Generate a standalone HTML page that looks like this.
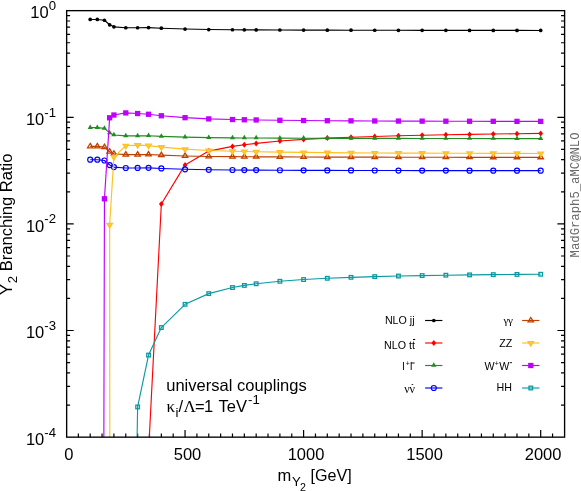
<!DOCTYPE html>
<html><head><meta charset="utf-8"><title>Y2 Branching Ratio</title>
<style>
html,body{margin:0;padding:0;background:#fff;}
body{width:581px;height:491px;overflow:hidden;}
svg{display:block;will-change:transform;}
text{font-family:"Liberation Sans",sans-serif;fill:#000;}
.s{font-family:"Liberation Serif",serif;}
.m{font-family:"Liberation Mono",monospace;}
</style></head><body>
<svg width="581" height="491" viewBox="0 0 581 491">
<rect x="0" y="0" width="581" height="491" fill="#ffffff"/>
<path d="M66.5 85.18h3.6M564.6 85.18h-3.6M66.5 66.40h3.6M564.6 66.40h-3.6M66.5 53.08h3.6M564.6 53.08h-3.6M66.5 42.75h3.6M564.6 42.75h-3.6M66.5 34.30h3.6M564.6 34.30h-3.6M66.5 27.17h3.6M564.6 27.17h-3.6M66.5 20.98h3.6M564.6 20.98h-3.6M66.5 15.53h3.6M564.6 15.53h-3.6M66.5 117.28h7.2M564.6 117.28h-7.2M66.5 191.80h3.6M564.6 191.80h-3.6M66.5 173.03h3.6M564.6 173.03h-3.6M66.5 159.71h3.6M564.6 159.71h-3.6M66.5 149.37h3.6M564.6 149.37h-3.6M66.5 140.93h3.6M564.6 140.93h-3.6M66.5 133.79h3.6M564.6 133.79h-3.6M66.5 127.61h3.6M564.6 127.61h-3.6M66.5 122.15h3.6M564.6 122.15h-3.6M66.5 223.90h7.2M564.6 223.90h-7.2M66.5 298.43h3.6M564.6 298.43h-3.6M66.5 279.65h3.6M564.6 279.65h-3.6M66.5 266.33h3.6M564.6 266.33h-3.6M66.5 256.00h3.6M564.6 256.00h-3.6M66.5 247.55h3.6M564.6 247.55h-3.6M66.5 240.42h3.6M564.6 240.42h-3.6M66.5 234.23h3.6M564.6 234.23h-3.6M66.5 228.78h3.6M564.6 228.78h-3.6M66.5 330.52h7.2M564.6 330.52h-7.2M66.5 405.05h3.6M564.6 405.05h-3.6M66.5 386.28h3.6M564.6 386.28h-3.6M66.5 372.96h3.6M564.6 372.96h-3.6M66.5 362.62h3.6M564.6 362.62h-3.6M66.5 354.18h3.6M564.6 354.18h-3.6M66.5 347.04h3.6M564.6 347.04h-3.6M66.5 340.86h3.6M564.6 340.86h-3.6M66.5 335.40h3.6M564.6 335.40h-3.6M78.36 437.15v-3.6M90.21 437.15v-3.6M102.06 437.15v-3.6M113.92 437.15v-3.6M125.78 437.15v-3.6M137.63 437.15v-3.6M149.49 437.15v-3.6M161.34 437.15v-3.6M173.19 437.15v-3.6M185.05 437.15v-7.2M196.91 437.15v-3.6M208.76 437.15v-3.6M220.62 437.15v-3.6M232.47 437.15v-3.6M244.33 437.15v-3.6M256.18 437.15v-3.6M268.03 437.15v-3.6M279.89 437.15v-3.6M291.75 437.15v-3.6M303.60 437.15v-7.2M315.46 437.15v-3.6M327.31 437.15v-3.6M339.17 437.15v-3.6M351.02 437.15v-3.6M362.88 437.15v-3.6M374.73 437.15v-3.6M386.58 437.15v-3.6M398.44 437.15v-3.6M410.30 437.15v-3.6M422.15 437.15v-7.2M434.00 437.15v-3.6M445.86 437.15v-3.6M457.72 437.15v-3.6M469.57 437.15v-3.6M481.43 437.15v-3.6M493.28 437.15v-3.6M505.13 437.15v-3.6M516.99 437.15v-3.6M528.85 437.15v-3.6M540.70 437.15v-7.2M552.56 437.15v-3.6" stroke="#000" stroke-width="1.2" fill="none"/>
<clipPath id="c"><rect x="66.5" y="10.5" width="498" height="426.5"/></clipPath>
<g><path d="M90.21 19.46L97.32 19.46L104.44 20.27L109.65 24.79L113.92 26.85L125.78 27.76L137.63 27.73L148.54 27.62L161.34 28.22L185.05 29.04L208.76 29.55L232.47 29.74L244.33 29.82L256.18 29.88L279.89 30.00L303.60 30.09L327.31 30.16L351.02 30.21L374.73 30.25L398.44 30.30L422.15 30.34L445.86 30.36L469.57 30.39L493.28 30.41L516.99 30.43L540.70 30.45" fill="none" stroke="#000000" stroke-width="1.15" stroke-linejoin="round" clip-path="url(#c)"/><circle cx="90.21" cy="19.46" r="1.85" fill="#000000"/><circle cx="97.32" cy="19.46" r="1.85" fill="#000000"/><circle cx="104.44" cy="20.27" r="1.85" fill="#000000"/><circle cx="109.65" cy="24.79" r="1.85" fill="#000000"/><circle cx="113.92" cy="26.85" r="1.85" fill="#000000"/><circle cx="125.78" cy="27.76" r="1.85" fill="#000000"/><circle cx="137.63" cy="27.73" r="1.85" fill="#000000"/><circle cx="148.54" cy="27.62" r="1.85" fill="#000000"/><circle cx="161.34" cy="28.22" r="1.85" fill="#000000"/><circle cx="185.05" cy="29.04" r="1.85" fill="#000000"/><circle cx="208.76" cy="29.55" r="1.85" fill="#000000"/><circle cx="232.47" cy="29.74" r="1.85" fill="#000000"/><circle cx="244.33" cy="29.82" r="1.85" fill="#000000"/><circle cx="256.18" cy="29.88" r="1.85" fill="#000000"/><circle cx="279.89" cy="30.00" r="1.85" fill="#000000"/><circle cx="303.60" cy="30.09" r="1.85" fill="#000000"/><circle cx="327.31" cy="30.16" r="1.85" fill="#000000"/><circle cx="351.02" cy="30.21" r="1.85" fill="#000000"/><circle cx="374.73" cy="30.25" r="1.85" fill="#000000"/><circle cx="398.44" cy="30.30" r="1.85" fill="#000000"/><circle cx="422.15" cy="30.34" r="1.85" fill="#000000"/><circle cx="445.86" cy="30.36" r="1.85" fill="#000000"/><circle cx="469.57" cy="30.39" r="1.85" fill="#000000"/><circle cx="493.28" cy="30.41" r="1.85" fill="#000000"/><circle cx="516.99" cy="30.43" r="1.85" fill="#000000"/><circle cx="540.70" cy="30.45" r="1.85" fill="#000000"/></g>
<g><path d="M149.3 437.15L161.34 204.00L185.05 164.90L208.76 151.10L232.47 146.40L244.33 144.80L256.18 143.40L279.89 141.00L303.60 139.40L327.31 138.10L351.02 137.30L374.73 136.50L398.44 135.80L422.15 135.20L445.86 134.80L469.57 134.40L493.28 134.00L516.99 133.70L540.70 133.40" fill="none" stroke="#ff0000" stroke-width="1.15" stroke-linejoin="round" clip-path="url(#c)"/><path d="M161.34 201.00l2.4 3.0l-2.4 3.0l-2.4 -3.0z" fill="#ff0000"/><path d="M185.05 161.90l2.4 3.0l-2.4 3.0l-2.4 -3.0z" fill="#ff0000"/><path d="M208.76 148.10l2.4 3.0l-2.4 3.0l-2.4 -3.0z" fill="#ff0000"/><path d="M232.47 143.40l2.4 3.0l-2.4 3.0l-2.4 -3.0z" fill="#ff0000"/><path d="M244.33 141.80l2.4 3.0l-2.4 3.0l-2.4 -3.0z" fill="#ff0000"/><path d="M256.18 140.40l2.4 3.0l-2.4 3.0l-2.4 -3.0z" fill="#ff0000"/><path d="M279.89 138.00l2.4 3.0l-2.4 3.0l-2.4 -3.0z" fill="#ff0000"/><path d="M303.60 136.40l2.4 3.0l-2.4 3.0l-2.4 -3.0z" fill="#ff0000"/><path d="M327.31 135.10l2.4 3.0l-2.4 3.0l-2.4 -3.0z" fill="#ff0000"/><path d="M351.02 134.30l2.4 3.0l-2.4 3.0l-2.4 -3.0z" fill="#ff0000"/><path d="M374.73 133.50l2.4 3.0l-2.4 3.0l-2.4 -3.0z" fill="#ff0000"/><path d="M398.44 132.80l2.4 3.0l-2.4 3.0l-2.4 -3.0z" fill="#ff0000"/><path d="M422.15 132.20l2.4 3.0l-2.4 3.0l-2.4 -3.0z" fill="#ff0000"/><path d="M445.86 131.80l2.4 3.0l-2.4 3.0l-2.4 -3.0z" fill="#ff0000"/><path d="M469.57 131.40l2.4 3.0l-2.4 3.0l-2.4 -3.0z" fill="#ff0000"/><path d="M493.28 131.00l2.4 3.0l-2.4 3.0l-2.4 -3.0z" fill="#ff0000"/><path d="M516.99 130.70l2.4 3.0l-2.4 3.0l-2.4 -3.0z" fill="#ff0000"/><path d="M540.70 130.40l2.4 3.0l-2.4 3.0l-2.4 -3.0z" fill="#ff0000"/></g>
<g><path d="M90.21 127.61L97.32 127.61L104.44 128.41L109.65 132.94L113.92 134.99L125.78 135.90L137.63 135.87L148.54 135.76L161.34 136.36L185.05 137.18L208.76 137.69L232.47 137.89L244.33 137.96L256.18 138.03L279.89 138.15L303.60 138.23L327.31 138.31L351.02 138.35L374.73 138.40L398.44 138.44L422.15 138.48L445.86 138.50L469.57 138.53L493.28 138.56L516.99 138.58L540.70 138.60" fill="none" stroke="#228b22" stroke-width="1.15" stroke-linejoin="round" clip-path="url(#c)"/><path d="M90.21 124.41l2.6 4.5h-5.2z" fill="#228b22"/><path d="M97.32 124.41l2.6 4.5h-5.2z" fill="#228b22"/><path d="M104.44 125.21l2.6 4.5h-5.2z" fill="#228b22"/><path d="M109.65 129.74l2.6 4.5h-5.2z" fill="#228b22"/><path d="M113.92 131.79l2.6 4.5h-5.2z" fill="#228b22"/><path d="M125.78 132.70l2.6 4.5h-5.2z" fill="#228b22"/><path d="M137.63 132.67l2.6 4.5h-5.2z" fill="#228b22"/><path d="M148.54 132.56l2.6 4.5h-5.2z" fill="#228b22"/><path d="M161.34 133.16l2.6 4.5h-5.2z" fill="#228b22"/><path d="M185.05 133.98l2.6 4.5h-5.2z" fill="#228b22"/><path d="M208.76 134.49l2.6 4.5h-5.2z" fill="#228b22"/><path d="M232.47 134.69l2.6 4.5h-5.2z" fill="#228b22"/><path d="M244.33 134.76l2.6 4.5h-5.2z" fill="#228b22"/><path d="M256.18 134.83l2.6 4.5h-5.2z" fill="#228b22"/><path d="M279.89 134.95l2.6 4.5h-5.2z" fill="#228b22"/><path d="M303.60 135.03l2.6 4.5h-5.2z" fill="#228b22"/><path d="M327.31 135.11l2.6 4.5h-5.2z" fill="#228b22"/><path d="M351.02 135.15l2.6 4.5h-5.2z" fill="#228b22"/><path d="M374.73 135.20l2.6 4.5h-5.2z" fill="#228b22"/><path d="M398.44 135.24l2.6 4.5h-5.2z" fill="#228b22"/><path d="M422.15 135.28l2.6 4.5h-5.2z" fill="#228b22"/><path d="M445.86 135.30l2.6 4.5h-5.2z" fill="#228b22"/><path d="M469.57 135.33l2.6 4.5h-5.2z" fill="#228b22"/><path d="M493.28 135.36l2.6 4.5h-5.2z" fill="#228b22"/><path d="M516.99 135.38l2.6 4.5h-5.2z" fill="#228b22"/><path d="M540.70 135.40l2.6 4.5h-5.2z" fill="#228b22"/></g>
<g><path d="M90.21 159.71L97.32 159.71L104.44 160.51L109.65 165.03L113.92 167.09L125.78 168.00L137.63 167.97L148.54 167.86L161.34 168.46L185.05 169.28L208.76 169.79L232.47 169.99L244.33 170.06L256.18 170.12L279.89 170.25L303.60 170.33L327.31 170.40L351.02 170.45L374.73 170.49L398.44 170.54L422.15 170.58L445.86 170.60L469.57 170.63L493.28 170.65L516.99 170.67L540.70 170.69" fill="none" stroke="#0000ff" stroke-width="1.15" stroke-linejoin="round" clip-path="url(#c)"/><circle cx="90.21" cy="159.71" r="2.5" fill="none" stroke="#0000ff" stroke-width="1.2"/><circle cx="97.32" cy="159.71" r="2.5" fill="none" stroke="#0000ff" stroke-width="1.2"/><circle cx="104.44" cy="160.51" r="2.5" fill="none" stroke="#0000ff" stroke-width="1.2"/><circle cx="109.65" cy="165.03" r="2.5" fill="none" stroke="#0000ff" stroke-width="1.2"/><circle cx="113.92" cy="167.09" r="2.5" fill="none" stroke="#0000ff" stroke-width="1.2"/><circle cx="125.78" cy="168.00" r="2.5" fill="none" stroke="#0000ff" stroke-width="1.2"/><circle cx="137.63" cy="167.97" r="2.5" fill="none" stroke="#0000ff" stroke-width="1.2"/><circle cx="148.54" cy="167.86" r="2.5" fill="none" stroke="#0000ff" stroke-width="1.2"/><circle cx="161.34" cy="168.46" r="2.5" fill="none" stroke="#0000ff" stroke-width="1.2"/><circle cx="185.05" cy="169.28" r="2.5" fill="none" stroke="#0000ff" stroke-width="1.2"/><circle cx="208.76" cy="169.79" r="2.5" fill="none" stroke="#0000ff" stroke-width="1.2"/><circle cx="232.47" cy="169.99" r="2.5" fill="none" stroke="#0000ff" stroke-width="1.2"/><circle cx="244.33" cy="170.06" r="2.5" fill="none" stroke="#0000ff" stroke-width="1.2"/><circle cx="256.18" cy="170.12" r="2.5" fill="none" stroke="#0000ff" stroke-width="1.2"/><circle cx="279.89" cy="170.25" r="2.5" fill="none" stroke="#0000ff" stroke-width="1.2"/><circle cx="303.60" cy="170.33" r="2.5" fill="none" stroke="#0000ff" stroke-width="1.2"/><circle cx="327.31" cy="170.40" r="2.5" fill="none" stroke="#0000ff" stroke-width="1.2"/><circle cx="351.02" cy="170.45" r="2.5" fill="none" stroke="#0000ff" stroke-width="1.2"/><circle cx="374.73" cy="170.49" r="2.5" fill="none" stroke="#0000ff" stroke-width="1.2"/><circle cx="398.44" cy="170.54" r="2.5" fill="none" stroke="#0000ff" stroke-width="1.2"/><circle cx="422.15" cy="170.58" r="2.5" fill="none" stroke="#0000ff" stroke-width="1.2"/><circle cx="445.86" cy="170.60" r="2.5" fill="none" stroke="#0000ff" stroke-width="1.2"/><circle cx="469.57" cy="170.63" r="2.5" fill="none" stroke="#0000ff" stroke-width="1.2"/><circle cx="493.28" cy="170.65" r="2.5" fill="none" stroke="#0000ff" stroke-width="1.2"/><circle cx="516.99" cy="170.67" r="2.5" fill="none" stroke="#0000ff" stroke-width="1.2"/><circle cx="540.70" cy="170.69" r="2.5" fill="none" stroke="#0000ff" stroke-width="1.2"/></g>
<g><path d="M90.21 146.38L97.32 146.38L104.44 147.19L109.65 151.71L113.92 153.77L125.78 154.68L137.63 154.65L148.54 154.54L161.34 155.14L185.05 155.96L208.76 156.47L232.47 156.66L244.33 156.74L256.18 156.80L279.89 156.92L303.60 157.01L327.31 157.08L351.02 157.13L374.73 157.17L398.44 157.22L422.15 157.25L445.86 157.28L469.57 157.30L493.28 157.33L516.99 157.35L540.70 157.37" fill="none" stroke="#c04000" stroke-width="1.15" stroke-linejoin="round" clip-path="url(#c)"/><path d="M90.21 143.38l2.7 4.4h-5.4z" fill="none" stroke="#c04000" stroke-width="1.3" stroke-linejoin="miter"/><path d="M97.32 143.38l2.7 4.4h-5.4z" fill="none" stroke="#c04000" stroke-width="1.3" stroke-linejoin="miter"/><path d="M104.44 144.19l2.7 4.4h-5.4z" fill="none" stroke="#c04000" stroke-width="1.3" stroke-linejoin="miter"/><path d="M109.65 148.71l2.7 4.4h-5.4z" fill="none" stroke="#c04000" stroke-width="1.3" stroke-linejoin="miter"/><path d="M113.92 150.77l2.7 4.4h-5.4z" fill="none" stroke="#c04000" stroke-width="1.3" stroke-linejoin="miter"/><path d="M125.78 151.68l2.7 4.4h-5.4z" fill="none" stroke="#c04000" stroke-width="1.3" stroke-linejoin="miter"/><path d="M137.63 151.65l2.7 4.4h-5.4z" fill="none" stroke="#c04000" stroke-width="1.3" stroke-linejoin="miter"/><path d="M148.54 151.54l2.7 4.4h-5.4z" fill="none" stroke="#c04000" stroke-width="1.3" stroke-linejoin="miter"/><path d="M161.34 152.14l2.7 4.4h-5.4z" fill="none" stroke="#c04000" stroke-width="1.3" stroke-linejoin="miter"/><path d="M185.05 152.96l2.7 4.4h-5.4z" fill="none" stroke="#c04000" stroke-width="1.3" stroke-linejoin="miter"/><path d="M208.76 153.47l2.7 4.4h-5.4z" fill="none" stroke="#c04000" stroke-width="1.3" stroke-linejoin="miter"/><path d="M232.47 153.66l2.7 4.4h-5.4z" fill="none" stroke="#c04000" stroke-width="1.3" stroke-linejoin="miter"/><path d="M244.33 153.74l2.7 4.4h-5.4z" fill="none" stroke="#c04000" stroke-width="1.3" stroke-linejoin="miter"/><path d="M256.18 153.80l2.7 4.4h-5.4z" fill="none" stroke="#c04000" stroke-width="1.3" stroke-linejoin="miter"/><path d="M279.89 153.92l2.7 4.4h-5.4z" fill="none" stroke="#c04000" stroke-width="1.3" stroke-linejoin="miter"/><path d="M303.60 154.01l2.7 4.4h-5.4z" fill="none" stroke="#c04000" stroke-width="1.3" stroke-linejoin="miter"/><path d="M327.31 154.08l2.7 4.4h-5.4z" fill="none" stroke="#c04000" stroke-width="1.3" stroke-linejoin="miter"/><path d="M351.02 154.13l2.7 4.4h-5.4z" fill="none" stroke="#c04000" stroke-width="1.3" stroke-linejoin="miter"/><path d="M374.73 154.17l2.7 4.4h-5.4z" fill="none" stroke="#c04000" stroke-width="1.3" stroke-linejoin="miter"/><path d="M398.44 154.22l2.7 4.4h-5.4z" fill="none" stroke="#c04000" stroke-width="1.3" stroke-linejoin="miter"/><path d="M422.15 154.25l2.7 4.4h-5.4z" fill="none" stroke="#c04000" stroke-width="1.3" stroke-linejoin="miter"/><path d="M445.86 154.28l2.7 4.4h-5.4z" fill="none" stroke="#c04000" stroke-width="1.3" stroke-linejoin="miter"/><path d="M469.57 154.30l2.7 4.4h-5.4z" fill="none" stroke="#c04000" stroke-width="1.3" stroke-linejoin="miter"/><path d="M493.28 154.33l2.7 4.4h-5.4z" fill="none" stroke="#c04000" stroke-width="1.3" stroke-linejoin="miter"/><path d="M516.99 154.35l2.7 4.4h-5.4z" fill="none" stroke="#c04000" stroke-width="1.3" stroke-linejoin="miter"/><path d="M540.70 154.37l2.7 4.4h-5.4z" fill="none" stroke="#c04000" stroke-width="1.3" stroke-linejoin="miter"/></g>
<g><path d="M109.8 437.15L109.65 224.80L113.92 157.00L125.78 145.70L137.63 145.08L148.54 145.62L161.34 147.10L185.05 149.19L208.76 150.53L232.47 151.27L244.33 151.55L256.18 151.78L279.89 152.17L303.60 152.44L327.31 152.66L351.02 152.82L374.73 152.95L398.44 153.06L422.15 153.16L445.86 153.23L469.57 153.29L493.28 153.35L516.99 153.40L540.70 153.45" fill="none" stroke="#ffc020" stroke-width="1.15" stroke-linejoin="round" clip-path="url(#c)"/><path d="M109.65 227.80l2.7 -4.4h-5.4z" fill="#ffcc44" stroke="#ffc020" stroke-width="1.3"/><path d="M113.92 160.00l2.7 -4.4h-5.4z" fill="#ffcc44" stroke="#ffc020" stroke-width="1.3"/><path d="M125.78 148.70l2.7 -4.4h-5.4z" fill="#ffcc44" stroke="#ffc020" stroke-width="1.3"/><path d="M137.63 148.08l2.7 -4.4h-5.4z" fill="#ffcc44" stroke="#ffc020" stroke-width="1.3"/><path d="M148.54 148.62l2.7 -4.4h-5.4z" fill="#ffcc44" stroke="#ffc020" stroke-width="1.3"/><path d="M161.34 150.10l2.7 -4.4h-5.4z" fill="#ffcc44" stroke="#ffc020" stroke-width="1.3"/><path d="M185.05 152.19l2.7 -4.4h-5.4z" fill="#ffcc44" stroke="#ffc020" stroke-width="1.3"/><path d="M208.76 153.53l2.7 -4.4h-5.4z" fill="#ffcc44" stroke="#ffc020" stroke-width="1.3"/><path d="M232.47 154.27l2.7 -4.4h-5.4z" fill="#ffcc44" stroke="#ffc020" stroke-width="1.3"/><path d="M244.33 154.55l2.7 -4.4h-5.4z" fill="#ffcc44" stroke="#ffc020" stroke-width="1.3"/><path d="M256.18 154.78l2.7 -4.4h-5.4z" fill="#ffcc44" stroke="#ffc020" stroke-width="1.3"/><path d="M279.89 155.17l2.7 -4.4h-5.4z" fill="#ffcc44" stroke="#ffc020" stroke-width="1.3"/><path d="M303.60 155.44l2.7 -4.4h-5.4z" fill="#ffcc44" stroke="#ffc020" stroke-width="1.3"/><path d="M327.31 155.66l2.7 -4.4h-5.4z" fill="#ffcc44" stroke="#ffc020" stroke-width="1.3"/><path d="M351.02 155.82l2.7 -4.4h-5.4z" fill="#ffcc44" stroke="#ffc020" stroke-width="1.3"/><path d="M374.73 155.95l2.7 -4.4h-5.4z" fill="#ffcc44" stroke="#ffc020" stroke-width="1.3"/><path d="M398.44 156.06l2.7 -4.4h-5.4z" fill="#ffcc44" stroke="#ffc020" stroke-width="1.3"/><path d="M422.15 156.16l2.7 -4.4h-5.4z" fill="#ffcc44" stroke="#ffc020" stroke-width="1.3"/><path d="M445.86 156.23l2.7 -4.4h-5.4z" fill="#ffcc44" stroke="#ffc020" stroke-width="1.3"/><path d="M469.57 156.29l2.7 -4.4h-5.4z" fill="#ffcc44" stroke="#ffc020" stroke-width="1.3"/><path d="M493.28 156.35l2.7 -4.4h-5.4z" fill="#ffcc44" stroke="#ffc020" stroke-width="1.3"/><path d="M516.99 156.40l2.7 -4.4h-5.4z" fill="#ffcc44" stroke="#ffc020" stroke-width="1.3"/><path d="M540.70 156.45l2.7 -4.4h-5.4z" fill="#ffcc44" stroke="#ffc020" stroke-width="1.3"/></g>
<g><path d="M103.85 437.15L104.44 198.80L109.65 117.80L113.92 115.01L125.78 112.92L137.63 113.54L148.54 114.28L161.34 115.75L185.05 117.69L208.76 118.89L232.47 119.53L244.33 119.76L256.18 119.96L279.89 120.30L303.60 120.53L327.31 120.72L351.02 120.85L374.73 120.97L398.44 121.06L422.15 121.15L445.86 121.21L469.57 121.26L493.28 121.32L516.99 121.36L540.70 121.40" fill="none" stroke="#c000ff" stroke-width="1.15" stroke-linejoin="round" clip-path="url(#c)"/><rect x="101.79" y="196.15" width="5.3" height="5.3" fill="#c000ff"/><rect x="107.00" y="115.15" width="5.3" height="5.3" fill="#c000ff"/><rect x="111.27" y="112.36" width="5.3" height="5.3" fill="#c000ff"/><rect x="123.12" y="110.27" width="5.3" height="5.3" fill="#c000ff"/><rect x="134.98" y="110.89" width="5.3" height="5.3" fill="#c000ff"/><rect x="145.89" y="111.63" width="5.3" height="5.3" fill="#c000ff"/><rect x="158.69" y="113.10" width="5.3" height="5.3" fill="#c000ff"/><rect x="182.40" y="115.04" width="5.3" height="5.3" fill="#c000ff"/><rect x="206.11" y="116.24" width="5.3" height="5.3" fill="#c000ff"/><rect x="229.82" y="116.88" width="5.3" height="5.3" fill="#c000ff"/><rect x="241.68" y="117.11" width="5.3" height="5.3" fill="#c000ff"/><rect x="253.53" y="117.31" width="5.3" height="5.3" fill="#c000ff"/><rect x="277.24" y="117.65" width="5.3" height="5.3" fill="#c000ff"/><rect x="300.95" y="117.88" width="5.3" height="5.3" fill="#c000ff"/><rect x="324.66" y="118.07" width="5.3" height="5.3" fill="#c000ff"/><rect x="348.37" y="118.20" width="5.3" height="5.3" fill="#c000ff"/><rect x="372.08" y="118.32" width="5.3" height="5.3" fill="#c000ff"/><rect x="395.79" y="118.41" width="5.3" height="5.3" fill="#c000ff"/><rect x="419.50" y="118.50" width="5.3" height="5.3" fill="#c000ff"/><rect x="443.21" y="118.56" width="5.3" height="5.3" fill="#c000ff"/><rect x="466.92" y="118.61" width="5.3" height="5.3" fill="#c000ff"/><rect x="490.63" y="118.67" width="5.3" height="5.3" fill="#c000ff"/><rect x="514.34" y="118.71" width="5.3" height="5.3" fill="#c000ff"/><rect x="538.05" y="118.75" width="5.3" height="5.3" fill="#c000ff"/></g>
<g><path d="M137.1 437.15L137.63 406.97L148.54 355.08L161.34 327.55L185.05 304.33L208.76 293.61L232.47 287.53L244.33 285.44L256.18 283.76L279.89 281.29L303.60 279.55L327.31 278.29L351.02 277.33L374.73 276.60L398.44 276.04L422.15 275.58L445.86 275.21L469.57 274.90L493.28 274.65L516.99 274.44L540.70 274.26" fill="none" stroke="#0a9aa0" stroke-width="1.15" stroke-linejoin="round" clip-path="url(#c)"/><rect x="135.83" y="405.17" width="3.6" height="3.6" fill="none" stroke="#0a9aa0" stroke-width="1.3"/><rect x="146.74" y="353.28" width="3.6" height="3.6" fill="none" stroke="#0a9aa0" stroke-width="1.3"/><rect x="159.54" y="325.75" width="3.6" height="3.6" fill="none" stroke="#0a9aa0" stroke-width="1.3"/><rect x="183.25" y="302.53" width="3.6" height="3.6" fill="none" stroke="#0a9aa0" stroke-width="1.3"/><rect x="206.96" y="291.81" width="3.6" height="3.6" fill="none" stroke="#0a9aa0" stroke-width="1.3"/><rect x="230.67" y="285.73" width="3.6" height="3.6" fill="none" stroke="#0a9aa0" stroke-width="1.3"/><rect x="242.53" y="283.64" width="3.6" height="3.6" fill="none" stroke="#0a9aa0" stroke-width="1.3"/><rect x="254.38" y="281.96" width="3.6" height="3.6" fill="none" stroke="#0a9aa0" stroke-width="1.3"/><rect x="278.09" y="279.49" width="3.6" height="3.6" fill="none" stroke="#0a9aa0" stroke-width="1.3"/><rect x="301.80" y="277.75" width="3.6" height="3.6" fill="none" stroke="#0a9aa0" stroke-width="1.3"/><rect x="325.51" y="276.49" width="3.6" height="3.6" fill="none" stroke="#0a9aa0" stroke-width="1.3"/><rect x="349.22" y="275.53" width="3.6" height="3.6" fill="none" stroke="#0a9aa0" stroke-width="1.3"/><rect x="372.93" y="274.80" width="3.6" height="3.6" fill="none" stroke="#0a9aa0" stroke-width="1.3"/><rect x="396.64" y="274.24" width="3.6" height="3.6" fill="none" stroke="#0a9aa0" stroke-width="1.3"/><rect x="420.35" y="273.78" width="3.6" height="3.6" fill="none" stroke="#0a9aa0" stroke-width="1.3"/><rect x="444.06" y="273.41" width="3.6" height="3.6" fill="none" stroke="#0a9aa0" stroke-width="1.3"/><rect x="467.77" y="273.10" width="3.6" height="3.6" fill="none" stroke="#0a9aa0" stroke-width="1.3"/><rect x="491.48" y="272.85" width="3.6" height="3.6" fill="none" stroke="#0a9aa0" stroke-width="1.3"/><rect x="515.19" y="272.64" width="3.6" height="3.6" fill="none" stroke="#0a9aa0" stroke-width="1.3"/><rect x="538.90" y="272.46" width="3.6" height="3.6" fill="none" stroke="#0a9aa0" stroke-width="1.3"/></g>
<rect x="66.65" y="10.65" width="497.95" height="426.50" fill="none" stroke="#000" stroke-width="1.35"/>
<g opacity="0.999">
<text x="56" y="18.2" font-size="16.5" text-anchor="end">10<tspan font-size="13.2" dy="-8.1">0</tspan></text>
<text x="56" y="124.9" font-size="16.5" text-anchor="end">10<tspan font-size="13.2" dy="-8.1">-1</tspan></text>
<text x="56" y="231.5" font-size="16.5" text-anchor="end">10<tspan font-size="13.2" dy="-8.1">-2</tspan></text>
<text x="56" y="338.1" font-size="16.5" text-anchor="end">10<tspan font-size="13.2" dy="-8.1">-3</tspan></text>
<text x="56" y="444.8" font-size="16.5" text-anchor="end">10<tspan font-size="13.2" dy="-8.1">-4</tspan></text>
<text x="68.9" y="460" font-size="16.5" text-anchor="middle">0</text>
<text x="187.5" y="460" font-size="16.5" text-anchor="middle">500</text>
<text x="306.0" y="460" font-size="16.5" text-anchor="middle">1000</text>
<text x="424.6" y="460" font-size="16.5" text-anchor="middle">1500</text>
<text x="543.1" y="460" font-size="16.5" text-anchor="middle">2000</text>
<text font-size="16.5" x="277.6" y="481.4">m</text><text font-size="13.2" x="291.9" y="486.3">Y</text><text font-size="10.6" x="300" y="490.6">2</text><text font-size="16.5" x="310.6" y="481.4" textLength="41.2" lengthAdjust="spacingAndGlyphs">[GeV]</text>
<g transform="translate(12.3 295.1) rotate(-90)"><text font-size="16.5" x="0" y="0">Y</text><text font-size="13.2" x="11.8" y="4.8">2</text><text font-size="16.5" x="23.9" y="0" textLength="117.6" lengthAdjust="spacingAndGlyphs">Branching Ratio</text></g>
<g transform="translate(578.6 257.4) rotate(-90)"><text class="m" font-size="12.3" x="0" y="0" textLength="125" lengthAdjust="spacing" style="fill:#686868">MadGraph5_aMC@NLO</text></g>
<text font-size="16.5" x="166.2" y="391.3" textLength="140.6" lengthAdjust="spacingAndGlyphs">universal couplings</text>
<text font-size="16.5" y="411.8"><tspan class="s" x="166.6" font-size="17">κ</tspan><tspan x="175.6" dy="4.8" font-size="13.2">i</tspan><tspan x="178.6" dy="-4.8">/</tspan><tspan class="s" x="183.6" font-size="17">Λ</tspan><tspan x="194.9">=</tspan><tspan x="203.9">1</tspan><tspan x="218.5">TeV</tspan><tspan x="248.0" dy="-8.1" font-size="13.2">-1</tspan></text>
<path d="M425.1 320.5h17.3" stroke="#000000" stroke-width="1.15" fill="none"/><circle cx="433.80" cy="320.50" r="1.85" fill="#000000"/>
<path d="M425.1 343.0h17.3" stroke="#ff0000" stroke-width="1.15" fill="none"/><path d="M433.80 340.00l2.4 3.0l-2.4 3.0l-2.4 -3.0z" fill="#ff0000"/>
<path d="M425.1 365.5h17.3" stroke="#228b22" stroke-width="1.15" fill="none"/><path d="M433.80 362.30l2.6 4.5h-5.2z" fill="#228b22"/>
<path d="M425.1 388.0h17.3" stroke="#0000ff" stroke-width="1.15" fill="none"/><circle cx="433.80" cy="388.00" r="2.5" fill="none" stroke="#0000ff" stroke-width="1.2"/>
<path d="M522.0999999999999 320.5h17.3" stroke="#c04000" stroke-width="1.15" fill="none"/><path d="M530.80 317.50l2.7 4.4h-5.4z" fill="none" stroke="#c04000" stroke-width="1.3" stroke-linejoin="miter"/>
<path d="M522.0999999999999 343.0h17.3" stroke="#ffc020" stroke-width="1.15" fill="none"/><path d="M530.80 346.00l2.7 -4.4h-5.4z" fill="#ffcc44" stroke="#ffc020" stroke-width="1.3"/>
<path d="M522.0999999999999 365.5h17.3" stroke="#c000ff" stroke-width="1.15" fill="none"/><rect x="528.15" y="362.85" width="5.3" height="5.3" fill="#c000ff"/>
<path d="M522.0999999999999 388.0h17.3" stroke="#0a9aa0" stroke-width="1.15" fill="none"/><rect x="529.00" y="386.20" width="3.6" height="3.6" fill="none" stroke="#0a9aa0" stroke-width="1.3"/>
<text font-size="10.7" x="414.6" y="323.6" text-anchor="end">NLO jj</text>
<text font-size="10.7" x="414.9" y="348.5" text-anchor="end">NLO tt</text><path d="M413.0 339.5h2.2" stroke="#000" stroke-width="1"/>
<text font-size="10.7" y="369.6"><tspan x="402.3">l</tspan><tspan x="405.8" dy="-3.7" font-size="7">+</tspan><tspan x="410.1" dy="3.7">l</tspan></text><path d="M411.0 363.0h3.7" stroke="#000" stroke-width="0.9"/>
<text class="s" font-size="12" y="392.7"><tspan x="404.3">ν</tspan><tspan x="409.6">ν</tspan></text><path d="M411.6 384.5h1.6" stroke="#000" stroke-width="0.8"/>
<text class="s" font-size="11.2" y="323.6"><tspan x="503.5">γ</tspan><tspan x="508.0">γ</tspan></text>
<text font-size="10.7" x="512.2" y="346.6" text-anchor="end">ZZ</text>
<text font-size="10.7" y="369.8"><tspan x="484.5">W</tspan><tspan x="494.8" dy="-3.7" font-size="7">+</tspan><tspan x="499.2" dy="3.7">W</tspan></text><path d="M509.8 362.7h2.2" stroke="#000" stroke-width="0.9"/>
<text font-size="10.7" x="512.0" y="391.3" text-anchor="end">HH</text>
</g>
</svg>
</body></html>
